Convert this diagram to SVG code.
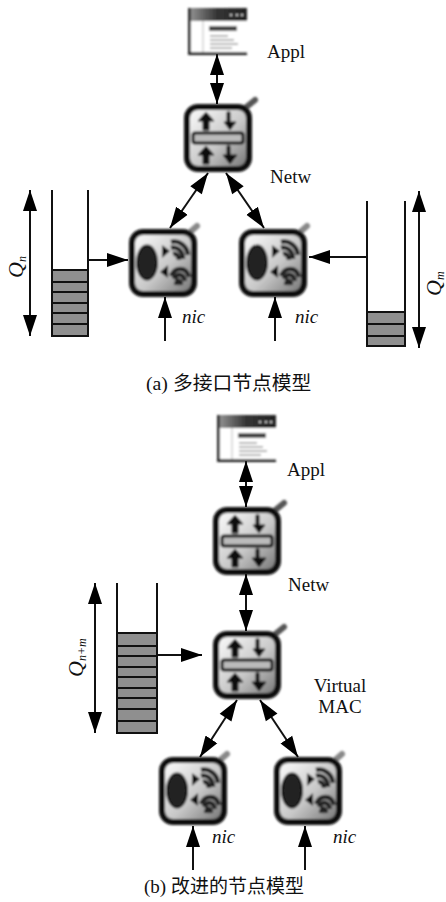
<svg xmlns="http://www.w3.org/2000/svg" width="446" height="902" viewBox="0 0 446 902">
<style>
text{font-family:"Liberation Serif","Noto Sans CJK SC",serif;font-size:19px;fill:#111}
.i{font-style:italic}
.q1{font-size:22px;font-style:italic}
.sub{font-size:12px}
.l{stroke:#111;stroke-width:2;fill:none}
.c{stroke:#111;stroke-width:2;fill:none;marker-start:url(#s);marker-end:url(#e)}
.o{stroke:#111;stroke-width:2;fill:none;marker-end:url(#e)}
.q{fill:#8f8f8f;stroke:#111;stroke-width:2}
</style>
<defs>
<marker id="e" markerUnits="userSpaceOnUse" markerWidth="22" markerHeight="16" refX="21" refY="8" orient="auto"><path d="M0 1L21 8L0 15Z" fill="#000"/></marker>
<marker id="s" markerUnits="userSpaceOnUse" markerWidth="22" markerHeight="16" refX="0" refY="8" orient="auto"><path d="M21 1L0 8L21 15Z" fill="#000"/></marker>
<linearGradient id="g" x1="0" y1="0" x2="1" y2="1"><stop offset="0" stop-color="#fff"/><stop offset=".55" stop-color="#c8c8c8"/><stop offset="1" stop-color="#707070"/></linearGradient>
<linearGradient id="t" x1="0" y1="0" x2="1" y2="0"><stop offset="0" stop-color="#999"/><stop offset=".5" stop-color="#333"/><stop offset="1" stop-color="#222"/></linearGradient>
<filter id="b" x="-15%" y="-15%" width="130%" height="130%"><feGaussianBlur stdDeviation=".8"/></filter>
<g id="net" filter="url(#b)">
<path d="M60 5L71 -4" stroke="#555" stroke-width="6" stroke-linecap="round"/>
<rect x="3" y="3" width="62" height="62" rx="11" fill="url(#g)" stroke="#111" stroke-width="6"/>
<rect x="9" y="29" width="50" height="10" rx="2" fill="#bbb" stroke="#111" stroke-width="3"/>
<path d="M22 8L30 17H25V26H19V17H14ZM46 8V18H52L46 26L40 18H43V8ZM22 42L30 51H25V60H19V51H14ZM46 42V51H53L46 60L39 51H43V42Z" fill="#111" stroke="#111"/>
</g>
<g id="nicn" filter="url(#b)">
<path d="M60 4L68 -3" stroke="#888" stroke-width="6" stroke-linecap="round"/>
<rect x="3" y="3" width="62" height="62" rx="11" fill="url(#g)" stroke="#111" stroke-width="6"/>
<ellipse cx="18" cy="33.500" rx="10" ry="17" fill="#222" stroke="#111" stroke-width="2"/>
<path d="M33 16L41 22L33 29ZM39 36L31 43L39 49Z" fill="#111"/>
<path d="M42 13C50 11 58 17 59 26M42 19C48 17 54 22 54 30M44 25C47 24 50 27 50 31M42 47C46 38 57 37 60 48M45 50C48 44 54 44 56 52M47 56C48 50 51 50 52 56" stroke="#222" stroke-width="4.500" fill="none"/>
</g>
<g id="app" filter="url(#b)">
<rect x="0" y="0" width="59" height="46" fill="#fff"/>
<rect x="0" y="0" width="59" height="13" fill="url(#t)"/>
<rect x="0" y="0" width="3" height="46" fill="#333"/>
<rect x="0" y="44" width="59" height="3" fill="#222"/>
<path d="M15 13V44" stroke="#bbb"/>
<rect x="21" y="18" width="28" height="5" rx="1" fill="#444"/>
<path d="M22 28H40M22 32H46M22 36H50M22 40H44" stroke="#999" stroke-width="1.500"/>
<path d="M42 7H44M48 7H50M53 7H55" stroke="#ccc" stroke-width="2"/>
</g>
</defs>

<g id="connectors">
<path class="c" d="M217 54V104"/>
<path class="c" d="M208 173L170 228"/>
<path class="c" d="M226 173L264 228"/>
<path class="c" d="M30 190V336"/>
<path class="c" d="M419 191V348"/>
<path class="o" d="M88 260H128"/>
<path class="o" d="M367 257H309"/>
<path class="o" d="M165 341V297"/>
<path class="o" d="M275 341V297"/>
<path class="c" d="M246 461V507"/>
<path class="c" d="M246 574V631"/>
<path class="c" d="M95 583V733"/>
<path class="o" d="M157 655H202"/>
<path class="c" d="M237 700L200 757"/>
<path class="c" d="M260 700L298 757"/>
<path class="o" d="M193 870V826"/>
<path class="o" d="M305 870V826"/>
</g>

<g id="appl-a"><use href="#app" x="188" y="8"/><text x="267" y="58">Appl</text></g>
<g id="netw-a"><use href="#net" x="184" y="104"/><text x="270" y="183">Netw</text></g>
<g id="nic-a1"><use href="#nicn" x="129" y="229"/><text class="i" x="182" y="323">nic</text></g>
<g id="nic-a2"><use href="#nicn" x="239" y="229"/><text class="i" x="295" y="323">nic</text></g>
<g id="queue-a1">
<rect class="q" x="52" y="270" width="36" height="66"/>
<path class="l" d="M52 270V190M88 270V190M52 282H88M52 292H88M52 303H88M52 313H88M52 324H88"/>
<text transform="translate(23 278) rotate(-90)"><tspan class="q1">Q</tspan><tspan class="sub i" dy="3">n</tspan></text>
</g>
<g id="queue-a2">
<rect class="q" x="367" y="312" width="38" height="34"/>
<path class="l" d="M367 312V201M405 312V201M367 324H405M367 336H405"/>
<text transform="translate(441 296) rotate(-90)"><tspan class="q1">Q</tspan><tspan class="sub i" dy="3">m</tspan></text>
</g>
<text id="caption-a" x="146" y="390" style="font-size:19.800px">(a) 多接口节点模型</text>

<g id="appl-b"><use href="#app" x="217" y="415"/><text x="287" y="476">Appl</text></g>
<g id="netw-b"><use href="#net" x="213" y="507"/><text x="288" y="591">Netw</text></g>
<g id="vmac"><use href="#net" x="213" y="631"/><text text-anchor="middle" x="340" y="692">Virtual</text><text text-anchor="middle" x="340" y="713">MAC</text></g>
<g id="nic-b1"><use href="#nicn" x="159" y="757"/><text class="i" x="212" y="843">nic</text></g>
<g id="nic-b2"><use href="#nicn" x="274" y="757"/><text class="i" x="333" y="843">nic</text></g>
<g id="queue-b">
<rect class="q" x="117" y="633" width="40" height="100"/>
<path class="l" d="M117 633V583M157 633V583M117 646H157M117 656H157M117 667H157M117 677H157M117 688H157M117 698H157M117 709H157M117 721H157"/>
<text transform="translate(83 677) rotate(-90)"><tspan class="q1">Q</tspan><tspan class="sub i" dy="3">n+m</tspan></text>
</g>
<text id="caption-b" x="144" y="893">(b) 改进的节点模型</text>
</svg>
